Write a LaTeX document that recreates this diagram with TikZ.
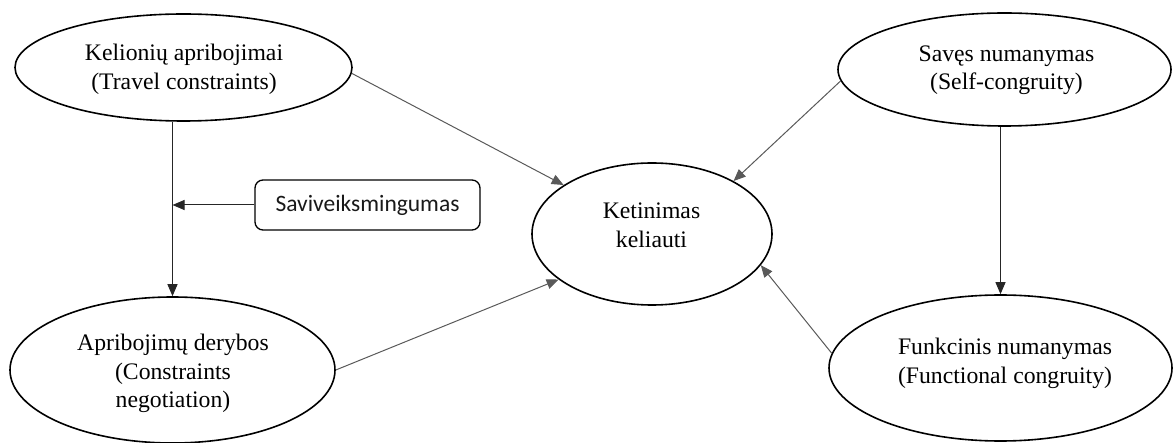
\documentclass[tikz,border=0pt]{standalone}
\usepackage{fontspec}
\setmainfont{Liberation Serif}
\newfontfamily\boxfont{Carlito}
\usetikzlibrary{shapes.geometric,arrows.meta,calc}

\tikzset{
  concept/.style={ellipse, draw=black, line width=1.6pt, inner sep=0pt, fill=none},
  label text/.style={inner sep=0pt, align=center, font=\fontsize{23.7}{28.5}\selectfont, text=black},
  modbox/.style={draw=black, line width=1.3pt, rounded corners=8pt, inner sep=0pt,
    minimum width=225pt, minimum height=50pt, font=\boxfont\fontsize{23.5}{28}\selectfont, text=black!90},
  link/.style={draw=black!65, line width=1pt, -{Triangle[length=12pt,width=10pt]}},
  flow/.style={draw=black!85, line width=1pt, -{Triangle[length=12pt,width=10pt]}},
}

\begin{document}
\begin{tikzpicture}[x=1pt, y=-1pt]
  \useasboundingbox (0,0) rectangle (1173,443);

  % outlines of the five constructs
  \node[concept, minimum width=337pt, minimum height=107pt] (e1) at (183.5,67.5) {};
  \node[concept, minimum width=325pt, minimum height=146pt] (e2) at (172.5,370) {};
  \node[concept, minimum width=240pt, minimum height=142pt] (e3) at (652,234) {};
  \node[concept, minimum width=333pt, minimum height=113pt] (e4) at (1004.5,69.5) {};
  \node[concept, minimum width=343pt, minimum height=146pt] (e5) at (1000.5,368) {};

  % construct names
  \node[label text] (t1) at (184,69.5) {Kelionių apribojimai\\(Travel constraints)};
  \node[label text] (t2) at (173,373.5) {Apribojimų derybos\\(Constraints\\negotiation)};
  \node[label text] (t3) at (651.5,225.4) {Ketinimas\\keliauti};
  \node[label text] (t4) at (1006.5,70.1) {Savęs numanymas\\(Self-congruity)};
  \node[label text] (t5) at (1005,363.2) {Funkcinis numanymas\\(Functional congruity)};

  % moderator
  \node[modbox] (box) at (367.5,205) {Saviveiksmingumas};

  % paths into the intention
  \draw[link] (e1.-2) -- (e3.151);
  \draw[link] (e2.0) -- (e3.206);
  \draw[link] (e4.184.6) -- (e3.33.5);
  \draw[link] (e5.175) -- (e3.-16.7);

  % vertical paths
  \draw[flow] (e2.north |- e1.south) -- (e2.north);
  \draw[flow] (e5.north |- e4.south) -- (e5.north);

  % moderating effect
  \draw[flow] (box.west) -- (e2.north |- box.west);
\end{tikzpicture}
\end{document}
